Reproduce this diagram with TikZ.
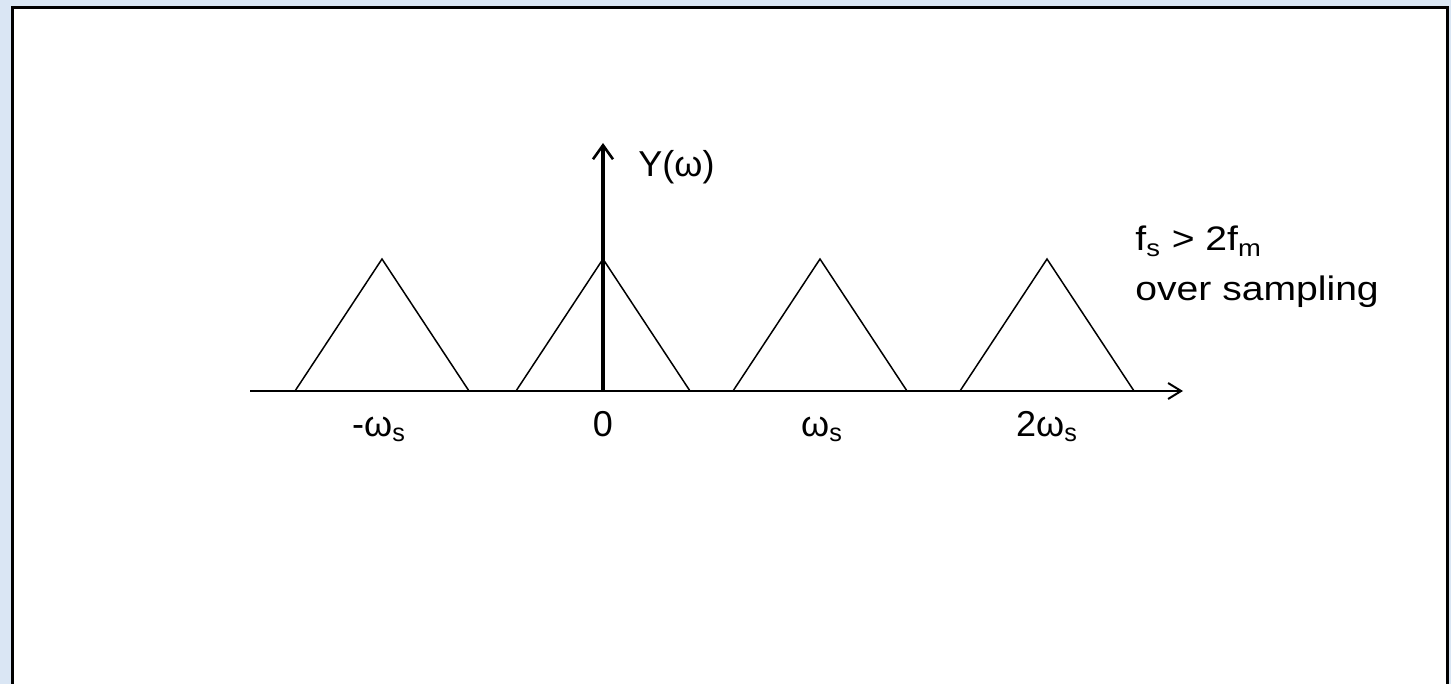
\documentclass[tikz,border=0pt]{standalone}
\usepackage{fontspec}
\setmainfont{Liberation Sans}
\newfontfamily\widesans{Liberation Sans}[FakeStretch=1.15]
\usetikzlibrary{arrows.meta, positioning}

\definecolor{pageblue}{HTML}{DAE6F4}

\begin{document}
\begin{tikzpicture}[
    x=0.5pt, y=-0.5pt,
    lbl/.style={font=\fontsize{18}{20}\selectfont, inner sep=0pt},
    note/.style={font=\widesans\fontsize{17}{20}\selectfont, inner sep=0pt, anchor=base west},
    haxis/.style={line width=1pt, -{Straight Barb[length=6.5pt, width=8pt, line width=1pt]}},
    vaxis/.style={line width=1.6pt, -{Straight Barb[length=7pt, width=10pt, line width=1.3pt]}},
    tri/.style={line width=0.75pt}
]
\useasboundingbox (0,0) rectangle (1451,684);
\fill[pageblue] (0,0) rectangle (1451,684);
\fill[white] (12,8) rectangle (1447,684);
\draw[line width=1.5pt] (12,684) -- (12,8) -- (1447,8) -- (1447,684);

\coordinate (xstart) at (250,391);
\coordinate (xend)   at (1183,391);
\coordinate (origin) at (603,391);
\coordinate (ytop)   at (603,143);

\foreach \c in {382,603,820,1047}
    \draw[tri] (\c-87,391) -- (\c,259) -- (\c+87,391);

\draw[haxis] (xstart) -- (xend);
\draw[vaxis] (origin) -- (ytop);

\node[lbl, anchor=west] (ylabel) at (638,167) {Y(ω)};

\node[lbl, anchor=base] (lneg)  at (379,436) {-ω\textsubscript{s}};
\node[lbl, anchor=base] (lzero) at (603,436) {0};
\node[lbl, anchor=base] (lone)  at (822,436) {ω\textsubscript{s}};
\node[lbl, anchor=base] (ltwo)  at (1047,436) {2ω\textsubscript{s}};

\node[note] (cond)   at (1135,251) {f\textsubscript{s} > 2f\textsubscript{m}};
\node[note] (regime) at (1135,300) {over sampling};
\end{tikzpicture}
\end{document}
